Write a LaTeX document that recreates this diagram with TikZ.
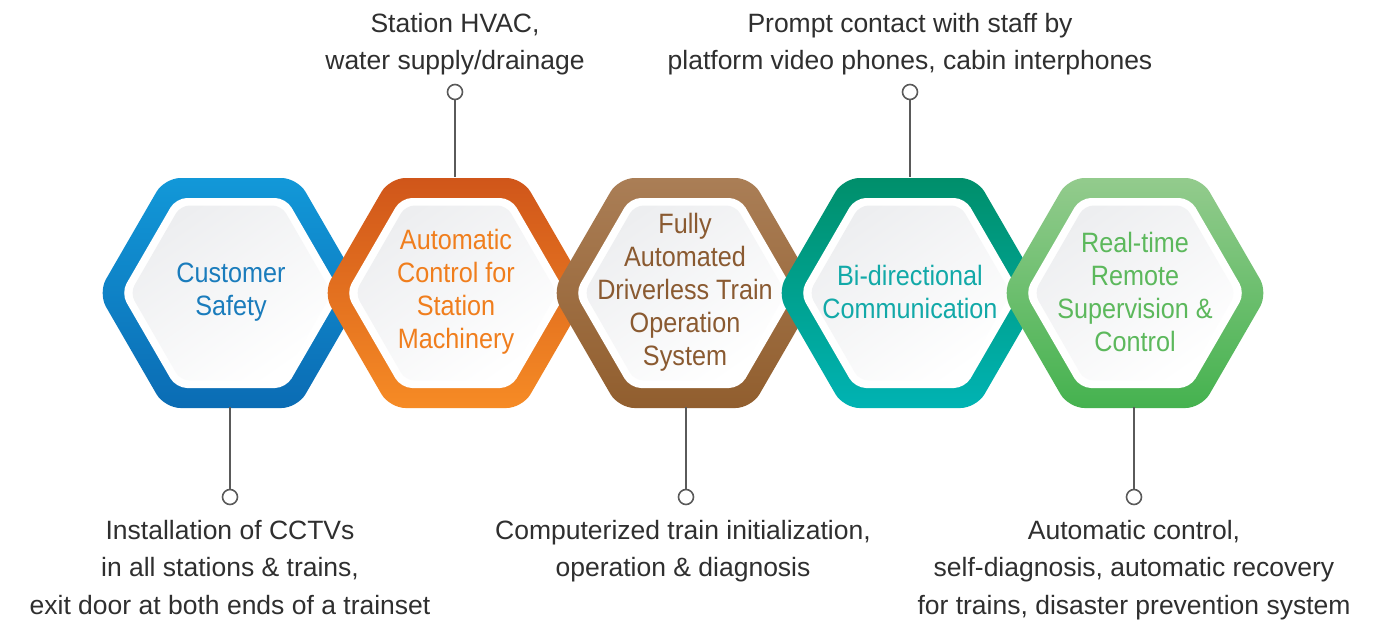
\documentclass[tikz,border=0pt]{standalone}
\usepackage{fontspec}
\setmainfont{Liberation Sans}
\newfontfamily\hexfont[FakeStretch=0.9]{Liberation Sans}
\definecolor{blueA}{HTML}{1298D8}
\definecolor{blueB}{HTML}{0B6CB4}
\definecolor{blueT}{HTML}{1A7CBC}
\definecolor{orgA}{HTML}{D0561A}
\definecolor{orgB}{HTML}{F68B25}
\definecolor{orgT}{HTML}{F07E1D}
\definecolor{brnA}{HTML}{AA7E56}
\definecolor{brnB}{HTML}{915E2E}
\definecolor{brnT}{HTML}{8A5A31}
\definecolor{tealA}{HTML}{008F6B}
\definecolor{tealB}{HTML}{00B3B3}
\definecolor{tealT}{HTML}{12A9A8}
\definecolor{grnA}{HTML}{93CB8D}
\definecolor{grnB}{HTML}{45B24F}
\definecolor{grnT}{HTML}{5CB85C}
\definecolor{innerA}{HTML}{EDEEF0}
\definecolor{labelgray}{HTML}{2F2F2F}
\definecolor{linegray}{HTML}{5A5A5A}
\begin{document}
\begin{tikzpicture}[x=1pt,y=-1pt,
  hexlabel/.style={font=\hexfont\fontsize{28}{33}\selectfont, align=center, inner sep=0pt},
  hexbox/.style={rectangle, minimum width=266pt, minimum height=230pt, inner sep=0pt},
  sidelabel/.style={font=\fontsize{26.5}{37.5}\selectfont, align=center, text=labelgray, inner sep=0pt},
  pin/.style={circle, draw=linegray, line width=1.6pt, fill=white, minimum size=15pt, inner sep=0pt},
  stem/.style={draw=linegray, line width=2pt}]
\useasboundingbox (0,0) rectangle (1387,621);
\fill[white] (0,0) rectangle (1387,621);

\foreach \cx/\ca/\cb in {231/blueA/blueB, 456/orgA/orgB, 685/brnA/brnB, 910/tealA/tealB, 1135/grnA/grnB}{
  \begin{scope}[shift={(\cx,293)}]
    \shade[top color=\ca, bottom color=\cb, rounded corners=16pt]
      (-133,0) -- (-66.5,-115) -- (66.5,-115) -- (133,0) -- (66.5,115) -- (-66.5,115) -- cycle;
    \fill[white, rounded corners=11pt]
      (-110,0) -- (-55,-95) -- (55,-95) -- (110,0) -- (55,95) -- (-55,95) -- cycle;
    \shade[top color=innerA, bottom color=white, shading angle=35, rounded corners=9pt]
      (-101,0) -- (-50.5,-87.5) -- (50.5,-87.5) -- (101,0) -- (50.5,87.5) -- (-50.5,87.5) -- cycle;
  \end{scope}
}

\node[hexbox, hexlabel, text=blueT] (hex1) at (231,292) {Customer\\Safety};
\node[hexbox, hexlabel, text=orgT] (hex2) at (456,292) {Automatic\\Control for\\Station\\Machinery};
\node[hexbox, hexlabel, text=brnT] (hex3) at (685,292) {Fully\\Automated\\Driverless Train\\Operation\\System};
\node[hexbox, hexlabel, text=tealT] (hex4) at (910,292) {Bi-directional\\Communication};
\node[hexbox, hexlabel, text=grnT] (hex5) at (1135,292) {Real-time\\Remote\\Supervision \&\\Control};

\node[pin] (p1) at (230,497) {};
\node[pin] (p2) at (455,92) {};
\node[pin] (p3) at (686,497) {};
\node[pin] (p4) at (910,92) {};
\node[pin] (p5) at (1134,497) {};

\draw[stem] (p1 |- hex1.south) -- (p1.north);
\draw[stem] (p2.south) -- (p2 |- hex2.north);
\draw[stem] (p3 |- hex3.south) -- (p3.north);
\draw[stem] (p4.south) -- (p4 |- hex4.north);
\draw[stem] (p5 |- hex5.south) -- (p5.north);

\node[sidelabel, anchor=north] (t2) at (455,13) {Station HVAC,\\water supply/drainage};
\node[sidelabel, anchor=north] (t4) at (910,13) {Prompt contact with staff by\\platform video phones, cabin interphones};
\node[sidelabel, anchor=north] (b1) at (230,520) {Installation of CCTVs\\in all stations \& trains,\\exit door at both ends of a trainset};
\node[sidelabel, anchor=north] (b3) at (683,520) {Computerized train initialization,\\operation \& diagnosis};
\node[sidelabel, anchor=north] (b5) at (1134,520) {Automatic control,\\self-diagnosis, automatic recovery\\for trains, disaster prevention system};
\end{tikzpicture}
\end{document}
